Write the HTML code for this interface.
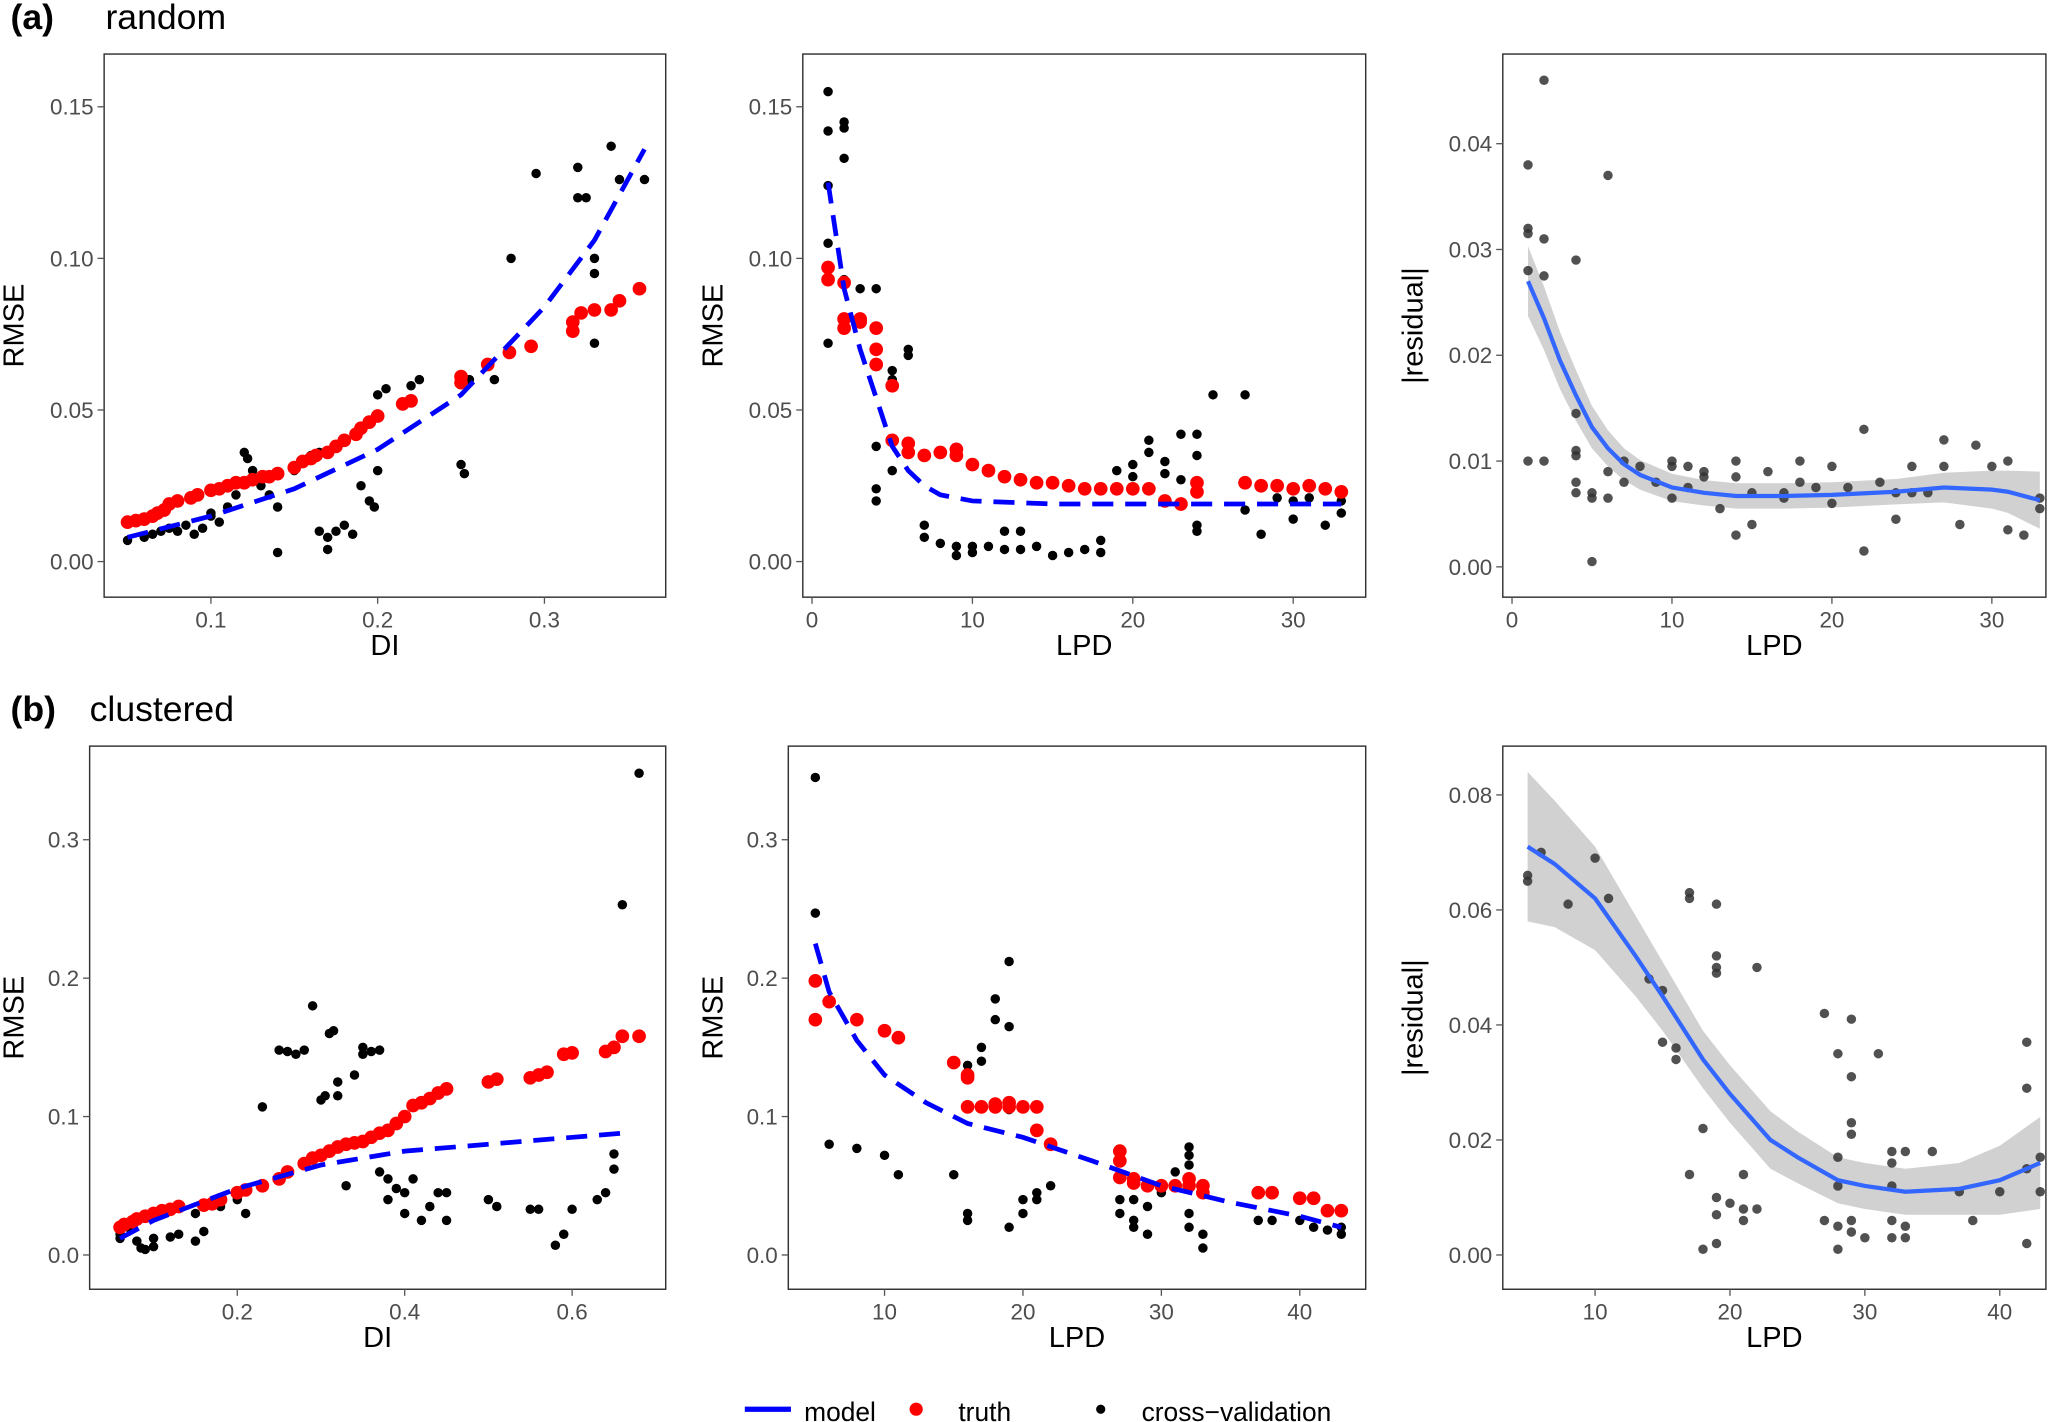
<!DOCTYPE html>
<html><head><meta charset="utf-8"><style>
html,body{margin:0;padding:0;background:#fff}
svg{display:block}
text{font-family:"Liberation Sans",Arial,sans-serif}
</style></head><body>
<svg id="fig" width="2067" height="1422" viewBox="0 0 1568 1078.7" preserveAspectRatio="none" xmlns="http://www.w3.org/2000/svg">
<text x="8" y="22" font-size="27" font-weight="bold">(a)</text>
<text x="80" y="22" font-size="27">random</text>
<text x="8" y="547" font-size="27" font-weight="bold">(b)</text>
<text x="68" y="547" font-size="27">clustered</text>
<g>
<line x1="565" y1="1069" x2="600" y2="1069" stroke="#0000ff" stroke-width="4"/>
<text x="610" y="1078" font-size="20">model</text>
<circle cx="695" cy="1069" r="5" fill="#ff0000"/>
<text x="727" y="1078" font-size="20">truth</text>
<circle cx="835" cy="1069" r="3.5" fill="#000"/>
<text x="866" y="1078" font-size="20">cross−validation</text>
</g>
</svg>
<script>
// ---------- data ----------
const a1Truth = [[0.05,0.013],[0.055,0.0135],[0.06,0.014],[0.065,0.015],[0.068,0.016],[0.072,0.017],[0.075,0.019],[0.08,0.02],[0.088,0.021],[0.092,0.022],[0.1,0.0235],[0.105,0.024],[0.11,0.025],[0.115,0.026],[0.12,0.026],[0.125,0.027],[0.131,0.028],[0.135,0.028],[0.14,0.029],[0.15,0.031],[0.155,0.033],[0.16,0.034],[0.163,0.035],[0.17,0.036],[0.175,0.038],[0.18,0.04],[0.187,0.042],[0.19,0.044],[0.195,0.046],[0.2,0.048],[0.215,0.052],[0.22,0.053],[0.25,0.061],[0.25,0.059],[0.266,0.065],[0.279,0.069],[0.292,0.071],[0.317,0.076],[0.317,0.079],[0.322,0.082],[0.33,0.083],[0.34,0.083],[0.345,0.086],[0.357,0.09]];
const a1Model = [[0.05,0.008],[0.1,0.015],[0.15,0.024],[0.2,0.037],[0.25,0.055],[0.3,0.084],[0.33,0.106],[0.36,0.136]];
const a1CV = [[0.05,0.007],[0.06,0.008],[0.065,0.009],[0.07,0.01],[0.075,0.011],[0.08,0.01],[0.085,0.012],[0.09,0.009],[0.095,0.011],[0.1,0.015],[0.1,0.016],[0.105,0.013],[0.11,0.018],[0.115,0.022],[0.12,0.036],[0.122,0.034],[0.125,0.03],[0.13,0.025],[0.135,0.022],[0.14,0.018],[0.14,0.003],[0.15,0.03],[0.155,0.033],[0.16,0.035],[0.165,0.036],[0.165,0.01],[0.17,0.008],[0.17,0.004],[0.175,0.01],[0.18,0.012],[0.185,0.009],[0.19,0.025],[0.195,0.02],[0.198,0.018],[0.2,0.03],[0.2,0.055],[0.205,0.057],[0.22,0.058],[0.225,0.06],[0.25,0.032],[0.252,0.029],[0.255,0.06],[0.27,0.06],[0.28,0.1],[0.295,0.128],[0.32,0.13],[0.32,0.12],[0.325,0.12],[0.33,0.1],[0.33,0.095],[0.33,0.072],[0.34,0.137],[0.345,0.126],[0.36,0.126]];
const a2Truth = [[1,0.097],[1,0.093],[2,0.092],[2,0.08],[2,0.077],[3,0.079],[3,0.08],[4,0.077],[4,0.065],[4,0.07],[5,0.058],[5,0.04],[6,0.039],[6,0.036],[7,0.035],[8,0.036],[9,0.035],[9,0.037],[10,0.032],[11,0.03],[12,0.028],[13,0.027],[14,0.026],[15,0.026],[16,0.025],[17,0.024],[18,0.024],[19,0.024],[20,0.024],[21,0.024],[22,0.02],[23,0.019],[24,0.026],[24,0.023],[27,0.026],[28,0.025],[29,0.025],[30,0.024],[31,0.025],[32,0.024],[33,0.023]];
const a2Model = [[1,0.125],[2,0.09],[3,0.07],[4,0.054],[5,0.038],[6,0.03],[7,0.025],[8,0.022],[10,0.02],[15,0.019],[33,0.019]];
const a2CV = [[1,0.155],[1,0.142],[1,0.124],[1,0.105],[1,0.072],[2,0.145],[2,0.143],[2,0.133],[2,0.093],[3,0.09],[4,0.09],[4,0.038],[4,0.024],[4,0.02],[5,0.063],[5,0.06],[5,0.03],[6,0.07],[6,0.068],[7,0.012],[7,0.008],[8,0.006],[9,0.005],[9,0.002],[10,0.005],[10,0.003],[11,0.005],[12,0.01],[12,0.004],[13,0.004],[13,0.01],[14,0.005],[15,0.002],[16,0.003],[17,0.004],[18,0.007],[18,0.003],[19,0.03],[20,0.032],[20,0.028],[21,0.04],[21,0.036],[22,0.033],[22,0.029],[23,0.042],[23,0.027],[24,0.042],[24,0.035],[24,0.012],[24,0.01],[25,0.055],[27,0.055],[27,0.017],[28,0.009],[29,0.021],[30,0.014],[30,0.02],[31,0.021],[32,0.012],[33,0.016],[33,0.02]];
const a3Pts = [[1,0.038],[1,0.032],[1,0.0315],[1,0.028],[1,0.01],[2,0.046],[2,0.031],[2,0.0275],[2,0.01],[4,0.029],[4,0.0145],[4,0.011],[4,0.0105],[4,0.008],[4,0.007],[5,0.007],[5,0.0065],[5,0.0005],[6,0.037],[6,0.009],[6,0.0065],[7,0.01],[7,0.008],[8,0.0095],[9,0.008],[10,0.01],[10,0.0095],[10,0.0065],[11,0.0095],[11,0.0075],[12,0.009],[12,0.0085],[13,0.0055],[14,0.01],[14,0.0085],[14,0.003],[15,0.004],[15,0.007],[16,0.009],[17,0.007],[17,0.0065],[18,0.01],[18,0.008],[19,0.0075],[20,0.0095],[20,0.006],[21,0.0075],[22,0.013],[22,0.0015],[23,0.008],[24,0.007],[24,0.0045],[25,0.0095],[25,0.007],[26,0.007],[27,0.012],[27,0.0095],[28,0.004],[29,0.0115],[30,0.0095],[31,0.01],[31,0.0035],[32,0.003],[33,0.0065],[33,0.0055]];
const a3Smooth = [[1,0.027],[2,0.0235],[3,0.0195],[4,0.0162],[5,0.0132],[6,0.0112],[7,0.0097],[8,0.0087],[10,0.0075],[12,0.007],[14,0.0067],[17,0.0067],[20,0.0068],[24,0.0071],[27,0.0075],[30,0.0073],[31,0.0071],[33,0.0063]];
const a3Band = [0.0033,0.003,0.0027,0.0024,0.002,0.0017,0.0015,0.0014,0.0013,0.0012,0.0012,0.0012,0.0012,0.0012,0.0014,0.0018,0.002,0.0027];
const b1Truth = [[0.06,0.02],[0.065,0.022],[0.075,0.024],[0.08,0.026],[0.09,0.028],[0.1,0.03],[0.11,0.032],[0.12,0.033],[0.13,0.035],[0.16,0.036],[0.17,0.037],[0.18,0.04],[0.2,0.045],[0.21,0.047],[0.23,0.05],[0.25,0.055],[0.26,0.06],[0.28,0.066],[0.29,0.07],[0.3,0.072],[0.31,0.075],[0.32,0.078],[0.33,0.08],[0.34,0.081],[0.35,0.082],[0.36,0.085],[0.37,0.088],[0.38,0.09],[0.39,0.095],[0.4,0.1],[0.41,0.108],[0.42,0.11],[0.43,0.113],[0.44,0.117],[0.45,0.12],[0.5,0.125],[0.51,0.127],[0.55,0.128],[0.56,0.13],[0.57,0.132],[0.59,0.145],[0.6,0.146],[0.64,0.147],[0.65,0.15],[0.66,0.158],[0.68,0.158]];
const b1Model = [[0.06,0.012],[0.1,0.025],[0.2,0.048],[0.3,0.065],[0.4,0.075],[0.5,0.08],[0.66,0.088]];
const b1CV = [[0.06,0.012],[0.07,0.02],[0.08,0.01],[0.085,0.005],[0.09,0.004],[0.1,0.006],[0.1,0.012],[0.12,0.013],[0.13,0.015],[0.15,0.01],[0.16,0.017],[0.18,0.035],[0.2,0.04],[0.21,0.03],[0.23,0.107],[0.25,0.148],[0.26,0.147],[0.27,0.145],[0.28,0.148],[0.29,0.18],[0.3,0.112],[0.305,0.115],[0.31,0.16],[0.315,0.162],[0.32,0.125],[0.32,0.115],[0.33,0.05],[0.34,0.13],[0.35,0.145],[0.35,0.15],[0.36,0.147],[0.37,0.148],[0.37,0.06],[0.38,0.055],[0.38,0.04],[0.39,0.048],[0.4,0.03],[0.4,0.045],[0.41,0.055],[0.42,0.025],[0.43,0.035],[0.44,0.045],[0.45,0.045],[0.45,0.025],[0.5,0.04],[0.51,0.035],[0.55,0.033],[0.56,0.033],[0.58,0.007],[0.59,0.015],[0.6,0.033],[0.63,0.04],[0.64,0.045],[0.65,0.062],[0.65,0.073],[0.66,0.253],[0.68,0.348],[0.06,0.015],[0.15,0.03]];
const b2Truth = [[5,0.198],[5,0.17],[6,0.183],[8,0.17],[10,0.162],[11,0.157],[15,0.139],[16,0.13],[16,0.128],[16,0.107],[17,0.107],[18,0.107],[18,0.109],[19,0.11],[19,0.107],[20,0.107],[21,0.107],[21,0.09],[22,0.08],[27,0.075],[27,0.068],[27,0.056],[28,0.055],[28,0.052],[29,0.05],[30,0.05],[31,0.05],[32,0.055],[32,0.05],[33,0.05],[33,0.045],[37,0.045],[38,0.045],[40,0.041],[41,0.041],[42,0.032],[43,0.032]];
const b2Model = [[5,0.225],[6,0.19],[8,0.155],[10,0.13],[13,0.11],[16,0.095],[20,0.085],[25,0.068],[30,0.05],[35,0.038],[40,0.028],[43,0.02]];
const b2CV = [[5,0.345],[5,0.247],[6,0.08],[8,0.077],[10,0.072],[11,0.058],[15,0.058],[16,0.137],[16,0.03],[16,0.025],[17,0.14],[17,0.15],[18,0.17],[18,0.185],[19,0.212],[19,0.165],[19,0.105],[20,0.04],[19,0.02],[20,0.03],[21,0.045],[21,0.04],[22,0.05],[27,0.075],[27,0.04],[27,0.03],[28,0.025],[28,0.02],[28,0.04],[29,0.015],[29,0.035],[30,0.045],[31,0.06],[32,0.078],[32,0.072],[32,0.065],[32,0.03],[32,0.02],[33,0.015],[33,0.005],[37,0.025],[38,0.025],[40,0.025],[41,0.02],[42,0.018],[43,0.015],[43,0.02]];
const b3Pts = [[5,0.066],[5,0.065],[6,0.07],[8,0.061],[10,0.069],[11,0.062],[14,0.048],[15,0.046],[15,0.037],[16,0.036],[16,0.034],[17,0.063],[17,0.062],[17,0.014],[18,0.022],[18,0.001],[19,0.061],[19,0.052],[19,0.05],[19,0.049],[19,0.01],[19,0.007],[19,0.002],[20,0.009],[21,0.014],[21,0.008],[21,0.006],[22,0.05],[22,0.008],[27,0.042],[27,0.006],[28,0.035],[28,0.017],[28,0.012],[28,0.005],[28,0.001],[29,0.041],[29,0.031],[29,0.023],[29,0.021],[29,0.006],[29,0.004],[30,0.003],[31,0.035],[32,0.018],[32,0.016],[32,0.012],[32,0.006],[32,0.003],[33,0.018],[33,0.005],[33,0.003],[35,0.018],[37,0.011],[38,0.006],[40,0.011],[42,0.037],[42,0.029],[42,0.015],[42,0.002],[43,0.017],[43,0.011]];
const b3Smooth = [[5,0.071],[7,0.068],[10,0.062],[13,0.052],[15,0.045],[18,0.034],[20,0.028],[23,0.02],[25,0.017],[28,0.013],[30,0.012],[33,0.011],[37,0.0115],[40,0.013],[43,0.016]];
const b3Band = [0.013,0.011,0.009,0.007,0.006,0.005,0.005,0.005,0.0045,0.004,0.004,0.004,0.0045,0.006,0.008];
const ticksA1x=[0.1,0.2,0.3], ticksRmseA=[0,0.05,0.1,0.15], ticksLpdA=[0,10,20,30], ticksResA=[0,0.01,0.02,0.03,0.04];
const ticksB1x=[0.2,0.4,0.6], ticksRmseB=[0,0.1,0.2,0.3], ticksLpdB=[10,20,30,40], ticksResB=[0,0.02,0.04,0.06,0.08];
const labA=['0.00','0.05','0.10','0.15'], labResA=['0.00','0.01','0.02','0.03','0.04'];
const labB=['0.0','0.1','0.2','0.3'], labResB=['0.00','0.02','0.04','0.06','0.08'];

// ---------- drawing ----------
const NS='http://www.w3.org/2000/svg';
const svg=document.getElementById('fig');
function mk(tag,attrs,parent){const e=document.createElementNS(NS,tag);for(const k in attrs)e.setAttribute(k,attrs[k]);(parent||svg).appendChild(e);return e;}
function lin(d0,d1,r0,r1){return v=>r0+(v-d0)/(d1-d0)*(r1-r0);}

function panel(p){
  const g=mk('g',{});
  
  
  const X=lin(p.xa[0],p.xa[1],p.xa[2],p.xa[3]);
  const Y=lin(p.ya[0],p.ya[1],p.ya[2],p.ya[3]);
  if(p.smooth){
    const up=p.smooth.map((d,i)=>X(d[0])+','+Y(d[1]+p.band[i]));
    const dn=p.smooth.map((d,i)=>X(d[0])+','+Y(d[1]-p.band[i])).reverse();
    const band=mk('polygon',{points:up.concat(dn).join(' '),fill:'#999',opacity:0.45},g);
    
    
  }
  (p.cv||[]).forEach(d=>{
    const c=mk('circle',{cx:X(d[0]),cy:Y(d[1]),r:3.6,fill:p.smooth?'#333':'#000',opacity:p.smooth?0.85:1},g);
    
    
  });
  (p.truth||[]).forEach(d=>{
    const c=mk('circle',{cx:X(d[0]),cy:Y(d[1]),r:5.2,fill:'#ff0000'},g);
    
    
  });
  if(p.model){
    const l=mk('polyline',{points:p.model.map(d=>X(d[0])+','+Y(d[1])).join(' '),fill:'none',stroke:'#0000ff','stroke-width':3.6,'stroke-dasharray':'16,9'},g);
    
    
  }
  if(p.smooth){
    const l=mk('polyline',{points:p.smooth.map(d=>X(d[0])+','+Y(d[1])).join(' '),fill:'none',stroke:'#3366ff','stroke-width':3.2},g);
    
    
  }
  const b=p.box;
  const r=mk('rect',{x:b[0],y:b[1],width:b[2]-b[0],height:b[3]-b[1],fill:'none',stroke:'#333','stroke-width':1.1},g);
  
  
  p.xt.forEach(v=>{
    mk('line',{x1:X(v),x2:X(v),y1:b[3],y2:b[3]+5,stroke:'#555','stroke-width':1},g);
    const t=mk('text',{x:X(v),y:b[3]+23,'font-size':17,fill:'#4d4d4d','text-anchor':'middle'},g);
    t.textContent=String(v);
    
    
  });
  p.yt.forEach((v,i)=>{
    mk('line',{x1:b[0]-5,x2:b[0],y1:Y(v),y2:Y(v),stroke:'#555','stroke-width':1},g);
    const t=mk('text',{x:b[0]-8,y:Y(v)+6,'font-size':17,fill:'#4d4d4d','text-anchor':'end'},g);
    t.textContent=p.yl[i];
    
    
  });
  const xl=mk('text',{x:(b[0]+b[2])/2,y:b[3]+44,'font-size':22,'text-anchor':'middle'},g);
  xl.textContent=p.xlab;
  
  
  const yx=p.ylx;
  const yl=mk('text',{x:yx,y:(b[1]+b[3])/2,'font-size':22,'text-anchor':'middle',transform:`rotate(-90 ${yx} ${(b[1]+b[3])/2})`},g);
  yl.textContent=p.ylab;
  
  
}

panel({name:'panel-a-di',box:[79,41,505,453],xa:[0.1,0.3,160,413],ya:[0,0.15,426,81],truth:a1Truth,model:a1Model,cv:a1CV,xt:ticksA1x,yt:ticksRmseA,yl:labA,xlab:'DI',ylab:'RMSE',ylx:18});
panel({name:'panel-a-lpd',box:[609,41,1036,453],xa:[0,30,616,981],ya:[0,0.15,426,81],truth:a2Truth,model:a2Model,cv:a2CV,xt:ticksLpdA,yt:ticksRmseA,yl:labA,xlab:'LPD',ylab:'RMSE',ylx:548});
panel({name:'panel-a-residual',box:[1140,41,1552,453],xa:[0,30,1147,1511],ya:[0,0.04,430,109],cv:a3Pts,smooth:a3Smooth,band:a3Band,xt:ticksLpdA,yt:ticksResA,yl:labResA,xlab:'LPD',ylab:'|residual|',ylx:1079});
panel({name:'panel-b-di',box:[68,566,505,978],xa:[0.2,0.6,180,434],ya:[0,0.3,952,637],truth:b1Truth,model:b1Model,cv:b1CV,xt:ticksB1x,yt:ticksRmseB,yl:labB,xlab:'DI',ylab:'RMSE',ylx:18});
panel({name:'panel-b-lpd',box:[598,566,1036,978],xa:[10,40,671,986],ya:[0,0.3,952,637],truth:b2Truth,model:b2Model,cv:b2CV,xt:ticksLpdB,yt:ticksRmseB,yl:labB,xlab:'LPD',ylab:'RMSE',ylx:548});
panel({name:'panel-b-residual',box:[1140,566,1552,978],xa:[10,40,1210,1517],ya:[0,0.08,952,603],cv:b3Pts,smooth:b3Smooth,band:b3Band,xt:ticksLpdB,yt:ticksResB,yl:labResB,xlab:'LPD',ylab:'|residual|',ylx:1079});
</script>
</body></html>
